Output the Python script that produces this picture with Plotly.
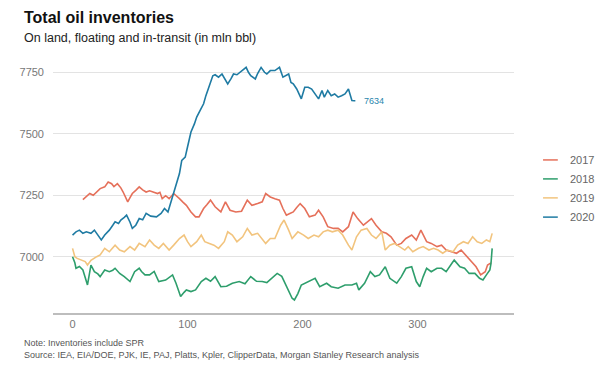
import plotly.graph_objects as go

# ---- data ----
days_2017 = [9,12,15,18,21,24,28,31,34,36,39,42,44,46,48,50,52,55,58,61,64,67,70,74,76,78,81,84,88,90,93,96,99,103,107,110,114,117,120,124,129,133,137,142,147,152,156,161,165,168,172,176,180,183,186,189,192,195,198,202,206,211,214,218,222,227,231,235,240,244,248,253,257,260,264,269,273,277,282,286,290,295,299,303,308,312,317,321,325,330,334,338,343,347,351,355,359,361,364]
vals_2017 = [7232,7245,7257,7250,7263,7277,7284,7304,7297,7285,7297,7280,7263,7240,7223,7240,7257,7270,7284,7272,7263,7268,7263,7257,7262,7236,7248,7236,7257,7250,7236,7222,7209,7182,7162,7162,7196,7212,7230,7203,7182,7223,7189,7182,7185,7230,7209,7216,7223,7257,7243,7236,7230,7196,7169,7176,7182,7200,7216,7196,7162,7169,7189,7162,7122,7115,7115,7101,7122,7182,7155,7128,7142,7155,7128,7101,7095,7081,7047,7054,7074,7088,7068,7108,7061,7054,7041,7047,7027,7020,7014,7027,7000,6980,6959,6926,6939,6966,6975]

days_2018 = [0,2,3,6,9,11,13,16,19,22,24,28,32,35,37,41,45,50,54,58,60,63,67,71,75,81,84,87,90,92,94,97,99,103,107,112,116,120,124,129,134,139,145,150,155,160,165,169,173,178,182,186,191,193,196,199,205,211,215,221,225,231,237,243,247,249,254,259,263,267,272,276,282,286,290,295,299,302,305,308,312,317,321,325,330,332,337,341,345,350,354,357,360,363,364,365]
vals_2018 = [7000,6975,6953,6960,6946,6920,6885,6966,6939,6930,6919,6946,6939,6945,6953,6932,6919,6899,6939,6953,6940,6926,6926,6940,6899,6905,6915,6926,6892,6860,6838,6855,6865,6858,6865,6899,6912,6900,6919,6878,6880,6892,6899,6890,6919,6900,6899,6895,6912,6932,6920,6878,6831,6824,6850,6885,6899,6912,6878,6892,6878,6872,6885,6885,6892,6865,6892,6939,6919,6926,6959,6912,6892,6919,6953,6959,6899,6878,6919,6953,6939,6953,6953,6939,6973,6986,6959,6953,6932,6932,6912,6905,6926,6946,6973,7034]

days_2019 = [0,2,4,8,11,13,16,21,24,28,32,37,41,45,50,54,58,63,67,71,75,79,84,88,93,97,100,103,108,112,115,119,123,127,132,135,139,143,148,152,156,161,165,168,172,176,181,184,188,191,196,201,205,210,214,218,222,226,231,235,240,243,247,251,256,260,264,269,272,276,280,284,289,292,296,301,305,310,314,318,322,326,331,335,340,344,348,352,356,360,363,365]
vals_2019 = [7034,7000,6993,6985,6980,6966,6985,7000,7007,7034,7020,7047,7027,7020,7041,7027,7054,7041,7068,7047,7034,7054,7027,7047,7074,7088,7061,7041,7061,7088,7061,7054,7047,7034,7061,7101,7088,7061,7081,7115,7088,7095,7074,7054,7074,7074,7128,7149,7108,7074,7101,7088,7074,7088,7081,7101,7108,7101,7108,7088,7047,7027,7081,7108,7115,7088,7074,7101,7027,7047,7054,7041,7027,7041,7020,7034,7041,7027,7034,7027,7014,7027,7020,7047,7061,7054,7081,7061,7054,7068,7061,7095]

days_2020 = [0,3,6,9,12,16,19,22,25,28,32,35,37,40,42,45,47,50,52,55,58,61,64,68,73,77,80,83,86,88,90,93,95,98,100,103,106,108,111,114,116,119,122,124,127,130,132,135,138,140,143,147,151,153,155,159,161,164,167,169,172,176,180,183,185,188,190,192,195,199,202,205,208,211,214,217,219,222,225,228,231,234,237,240,243,245,246]
vals_2020 = [7088,7101,7108,7095,7101,7095,7108,7088,7068,7088,7108,7128,7142,7135,7149,7160,7169,7140,7115,7128,7155,7150,7176,7165,7162,7176,7196,7182,7230,7263,7290,7338,7392,7405,7446,7507,7540,7568,7595,7622,7655,7696,7736,7740,7730,7743,7725,7703,7725,7743,7740,7757,7770,7750,7736,7723,7745,7770,7750,7743,7757,7757,7770,7730,7735,7743,7709,7703,7682,7642,7689,7689,7682,7662,7642,7676,7649,7676,7655,7662,7649,7655,7662,7682,7635,7634,7634]

series_names = ["2017", "2018", "2019", "2020"]
series_colors = ["#e5705a", "#2e9e6c", "#f2c47e", "#1f7ba3"]
x_ticks = [0, 100, 200, 300]
y_ticks = [7000, 7250, 7500, 7750]

title_text = "Total oil inventories"
subtitle_text = "On land, floating and in-transit (in mln bbl)"
note_text = "Note: Inventories include SPR"
source_text = "Source: IEA, EIA/DOE, PJK, IE, PAJ, Platts, Kpler, ClipperData, Morgan Stanley Research analysis"

FONT = "Liberation Sans, Arial, sans-serif"

fig = go.Figure()
all_days = [days_2017, days_2018, days_2019, days_2020]
all_vals = [vals_2017, vals_2018, vals_2019, vals_2020]
for name, color, d, v in zip(series_names, series_colors, all_days, all_vals):
    fig.add_trace(go.Scatter(x=d, y=v, mode="lines", name=name,
                             line=dict(color=color, width=1.6)))

# end label for 2020
fig.add_annotation(x=days_2020[-1], y=vals_2020[-1], text=str(vals_2020[-1]),
                   showarrow=False, xanchor="left", yanchor="middle", xshift=7,
                   font=dict(family=FONT, size=9, color="#2a86ad"))

# custom legend (short line keys, right of plot)
legend_y = [0.605, 0.530, 0.455, 0.379]
for name, color, ly in zip(series_names, series_colors, legend_y):
    fig.add_shape(type="line", xref="paper", yref="paper", x0=1.063, x1=1.095,
                  y0=ly, y1=ly, line=dict(color=color, width=1.5))
    fig.add_annotation(xref="paper", yref="paper", x=1.117, y=ly, text=name,
                       showarrow=False, xanchor="left", yanchor="middle",
                       font=dict(family=FONT, size=11, color="#666666"))

# titles and notes
fig.add_annotation(xref="paper", yref="paper", x=-0.067, y=1.168, text="<b>" + title_text + "</b>",
                   showarrow=False, xanchor="left", yanchor="middle",
                   font=dict(family=FONT, size=16, color="#111111"))
fig.add_annotation(xref="paper", yref="paper", x=-0.067, y=1.087, text=subtitle_text,
                   showarrow=False, xanchor="left", yanchor="middle",
                   font=dict(family=FONT, size=12.5, color="#222222"))
fig.add_annotation(xref="paper", yref="paper", x=-0.067, y=-0.142,
                   text=note_text + "<br>" + source_text, align="left",
                   showarrow=False, xanchor="left", yanchor="middle",
                   font=dict(family=FONT, size=9, color="#555555"))

fig.update_layout(
    width=600, height=368,
    margin=dict(l=53, r=86, t=60, b=55),
    paper_bgcolor="white", plot_bgcolor="white",
    font=dict(family=FONT, size=11, color="#666666"),
    showlegend=False,
    xaxis=dict(range=[-17, 384], tickvals=x_ticks, showgrid=False, zeroline=False,
               showline=True, linecolor="#bdbdbd", linewidth=2, ticks="",
               tickfont=dict(family=FONT, size=11, color="#777777")),
    yaxis=dict(range=[6771, 7800], tickvals=y_ticks, showgrid=True, gridcolor="#e3e3e3",
               gridwidth=1, zeroline=False, showline=False, ticks="",
               ticklabelstandoff=8,
               tickfont=dict(family=FONT, size=11, color="#777777")),
)

fig.write_html("out.html", config={"displayModeBar": False},
               post_script="document.body.style.margin='0';document.body.style.overflow='hidden';")
